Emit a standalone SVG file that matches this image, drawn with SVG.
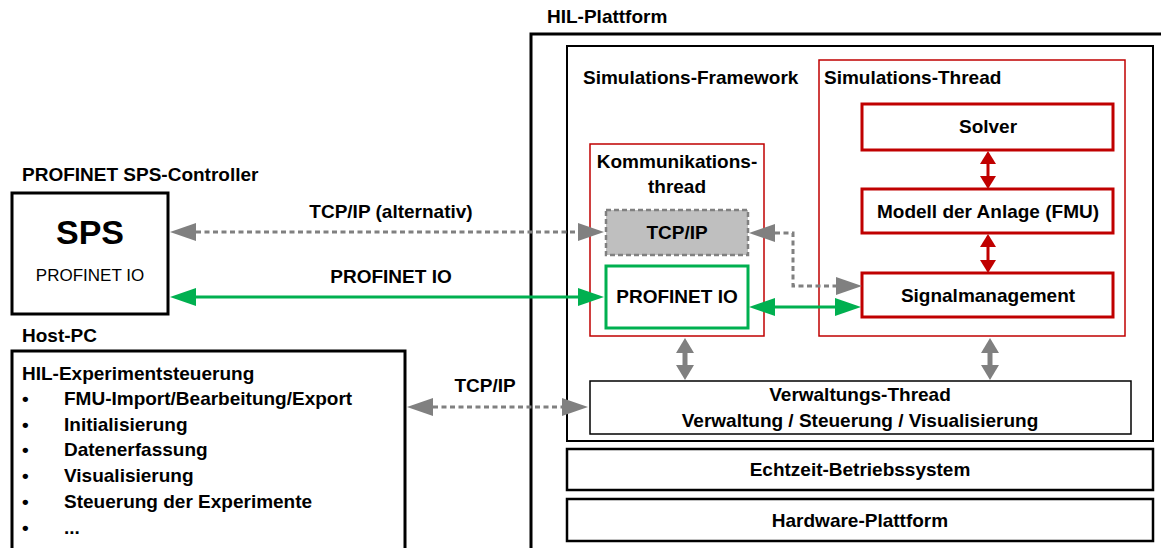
<svg xmlns="http://www.w3.org/2000/svg" width="1161" height="548" viewBox="0 0 1161 548">
  <style>
    text { font-family: "Liberation Sans", Arial, sans-serif; fill: #000; }
    .b { font-weight: bold; font-size: 19px; }
    .c { text-anchor: middle; }
    .box { fill: #fff; stroke: #000; }
    .red-thin { fill: #fff; stroke: #C00000; stroke-width: 1.5; }
    .red-thick { fill: #fff; stroke: #C00000; stroke-width: 3; }
    .dash { fill: none; stroke: #808080; stroke-width: 3; stroke-dasharray: 5 3.5; }
    .green { fill: none; stroke: #00B050; stroke-width: 3; }
    .redline { fill: none; stroke: #C00000; stroke-width: 3; }
    .grayline { fill: none; stroke: #808080; stroke-width: 5; }
  </style>
  <defs>
    <marker id="ah-gray" markerUnits="userSpaceOnUse" viewBox="0 0 26 18" markerWidth="26" markerHeight="18" refX="0" refY="9" orient="auto-start-reverse">
      <path d="M0,0 L26,9 L0,18 z" fill="#808080"/>
    </marker>
    <marker id="ah-green" markerUnits="userSpaceOnUse" viewBox="0 0 26 18" markerWidth="26" markerHeight="18" refX="0" refY="9" orient="auto-start-reverse">
      <path d="M0,0 L26,9 L0,18 z" fill="#00B050"/>
    </marker>
    <marker id="ah-red" markerUnits="userSpaceOnUse" viewBox="0 0 13 16" markerWidth="13" markerHeight="16" refX="0" refY="8" orient="auto-start-reverse">
      <path d="M0,0 L13,8 L0,16 z" fill="#C00000"/>
    </marker>
    <marker id="ah-block" markerUnits="userSpaceOnUse" viewBox="0 0 15 18" markerWidth="15" markerHeight="18" refX="0" refY="9" orient="auto-start-reverse">
      <path d="M0,0 L15,9 L0,18 z" fill="#808080"/>
    </marker>
  </defs>

  <!-- HIL platform -->
  <g id="hil-plattform">
    <text class="b" x="547" y="23">HIL-Plattform</text>
    <rect class="box" x="531" y="34" width="700" height="600" stroke-width="3"/>
  </g>

  <g id="simulations-framework">
    <rect class="box" x="567" y="46" width="586" height="395" stroke-width="2"/>
    <text class="b" x="583" y="84">Simulations-Framework</text>
  </g>

  <g id="kommunikationsthread">
    <rect class="red-thin" x="590" y="144" width="174" height="192"/>
    <text class="b c" x="677" y="168">Kommunikations-</text>
    <text class="b c" x="677" y="193">thread</text>
  </g>

  <g id="tcpip-intern">
    <rect x="606" y="210" width="142" height="45" fill="#BFBFBF" stroke="#808080" stroke-width="2.5" stroke-dasharray="5 3"/>
    <text class="b c" x="677" y="239">TCP/IP</text>
  </g>

  <g id="profinet-intern">
    <rect x="606" y="266" width="142" height="62" fill="#fff" stroke="#00B050" stroke-width="3"/>
    <text class="b c" x="677" y="303">PROFINET IO</text>
  </g>

  <g id="simulations-thread">
    <rect class="red-thin" x="819" y="60" width="306" height="276"/>
    <text class="b" x="824" y="84">Simulations-Thread</text>
  </g>

  <g id="solver">
    <rect class="red-thick" x="862" y="104" width="251" height="46"/>
    <text class="b c" x="988" y="133">Solver</text>
  </g>

  <g id="modell">
    <rect class="red-thick" x="862" y="189" width="251" height="44"/>
    <text class="b c" x="988" y="218">Modell der Anlage (FMU)</text>
  </g>

  <g id="signalmanagement">
    <rect class="red-thick" x="862" y="273" width="251" height="44"/>
    <text class="b c" x="988" y="302">Signalmanagement</text>
  </g>

  <g id="verwaltungs-thread">
    <rect class="box" x="590" y="381" width="541" height="53" stroke-width="1.5"/>
    <text class="b c" x="860" y="401">Verwaltungs-Thread</text>
    <text class="b c" x="860" y="427">Verwaltung / Steuerung / Visualisierung</text>
  </g>

  <g id="echtzeit-betriebssystem">
    <rect class="box" x="567" y="449" width="586" height="41" stroke-width="2.5"/>
    <text class="b c" x="860" y="476">Echtzeit-Betriebssystem</text>
  </g>

  <g id="hardware-plattform">
    <rect class="box" x="567" y="499" width="586" height="42" stroke-width="2.5"/>
    <text class="b c" x="860" y="527">Hardware-Plattform</text>
  </g>

  <!-- PLC -->
  <g id="sps">
    <text class="b" x="22" y="181">PROFINET SPS-Controller</text>
    <rect class="box" x="12" y="193" width="156" height="121" stroke-width="3"/>
    <text class="c" x="90" y="244" font-size="34" font-weight="bold">SPS</text>
    <text class="c" x="90" y="281" font-size="17">PROFINET IO</text>
  </g>

  <!-- Host PC -->
  <g id="host-pc">
    <text class="b" x="22" y="342">Host-PC</text>
    <rect class="box" x="12" y="351" width="393" height="220" stroke-width="3"/>
    <text class="b" x="22" y="380">HIL-Experimentsteuerung</text>
    <g class="b">
      <text x="22" y="405">•</text><text x="64" y="405">FMU-Import/Bearbeitung/Export</text>
      <text x="22" y="431">•</text><text x="64" y="431">Initialisierung</text>
      <text x="22" y="456">•</text><text x="64" y="456">Datenerfassung</text>
      <text x="22" y="482">•</text><text x="64" y="482">Visualisierung</text>
      <text x="22" y="508">•</text><text x="64" y="508">Steuerung der Experimente</text>
      <text x="22" y="534">•</text><text x="64" y="534">...</text>
    </g>
  </g>

  <!-- connectors -->
  <g id="connectors">
    <line class="dash" x1="196" y1="232" x2="578" y2="232" marker-start="url(#ah-gray)" marker-end="url(#ah-gray)"/>
    <text class="b c" x="391" y="218">TCP/IP (alternativ)</text>

    <line class="green" x1="196" y1="297" x2="578" y2="297" marker-start="url(#ah-green)" marker-end="url(#ah-green)"/>
    <text class="b c" x="391" y="283">PROFINET IO</text>

    <line class="dash" x1="433" y1="407" x2="562" y2="407" marker-start="url(#ah-gray)" marker-end="url(#ah-gray)"/>
    <text class="b c" x="485" y="392">TCP/IP</text>

    <path class="dash" d="M775,233 H793 V286 H836" marker-start="url(#ah-gray)" marker-end="url(#ah-gray)"/>
    <line class="green" x1="775" y1="307" x2="835" y2="307" marker-start="url(#ah-green)" marker-end="url(#ah-green)"/>

    <line class="redline" x1="988" y1="164" x2="988" y2="176" marker-start="url(#ah-red)" marker-end="url(#ah-red)"/>
    <line class="redline" x1="988" y1="247" x2="988" y2="260" marker-start="url(#ah-red)" marker-end="url(#ah-red)"/>

    <line class="grayline" x1="685" y1="353" x2="685" y2="365" marker-start="url(#ah-block)" marker-end="url(#ah-block)"/>
    <line class="grayline" x1="990" y1="353" x2="990" y2="365" marker-start="url(#ah-block)" marker-end="url(#ah-block)"/>
  </g>
</svg>
